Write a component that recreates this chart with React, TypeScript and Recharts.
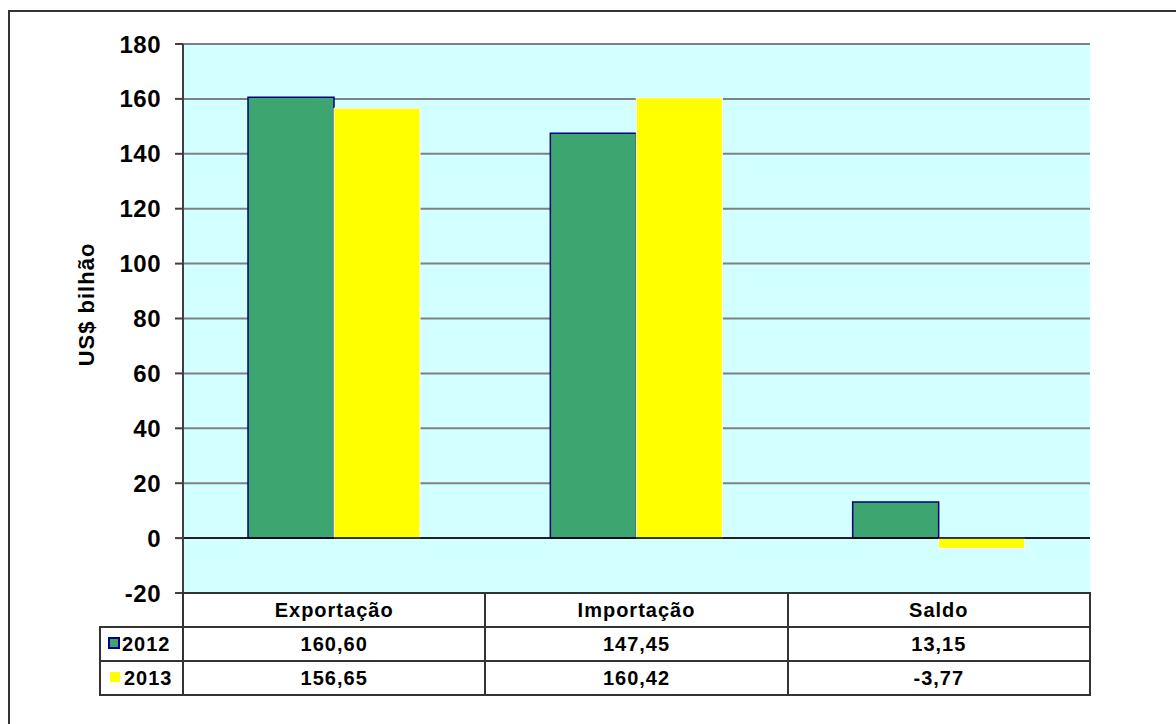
import { BarChart, Bar, XAxis, YAxis, CartesianGrid, ReferenceLine } from 'recharts';

const categories = ['Exportação', 'Importação', 'Saldo'];
const series2012 = [160.6, 147.45, 13.15];
const series2013 = [156.65, 160.42, -3.77];
const yTicks = [-20, 0, 20, 40, 60, 80, 100, 120, 140, 160, 180];
const seriesNames = ['2012', '2013'];

const W = 1176;
const H = 724;
const plotLeft = 183;
const plotRight = 1090;
const plotTop = 44;
const plotBottom = 593;
const tableLeft = 100;
const rowH = 34;

const font = '"Liberation Sans", Arial, sans-serif';
const green = '#3DA56F';
const navy = '#000080';
const yellow = '#FFFF00';

const fmt = (v: number) => v.toFixed(2).replace('.', ',');

const data = categories.map((name, i) => ({
  name,
  y2012: series2012[i],
  y2013: series2013[i],
}));

function YLabel(props: any) {
  const { viewBox } = props;
  const cx = viewBox.x + 86;
  const cy = viewBox.y + viewBox.height / 2 - 14;
  return (
    <text
      x={cx}
      y={cy}
      transform={`rotate(-90 ${cx} ${cy})`}
      textAnchor="middle"
      dominantBaseline="central"
      fontFamily={font}
      fontWeight="bold"
      fontSize={22}
      letterSpacing={1}
      fill="#000"
    >
      US$ bilhão
    </text>
  );
}

function DataTable() {
  const colW = (plotRight - plotLeft) / categories.length;
  const border = '2px solid #333';
  const cell: React.CSSProperties = {
    border,
    height: rowH - 2,
    padding: 0,
    textAlign: 'center',
    verticalAlign: 'middle',
    fontFamily: font,
    fontWeight: 'bold',
    fontSize: 20,
    letterSpacing: 1,
    color: '#000',
  };
  const rows = [series2012, series2013];
  return (
    <table
      style={{
        position: 'absolute',
        left: tableLeft - 1,
        top: plotBottom - 1,
        borderCollapse: 'collapse',
        tableLayout: 'fixed',
        width: plotRight - tableLeft + 2,
      }}
    >
      <colgroup>
        <col style={{ width: plotLeft - tableLeft }} />
        {categories.map((c) => (
          <col key={c} style={{ width: colW }} />
        ))}
      </colgroup>
      <tbody>
        <tr>
          <td style={{ ...cell, border: 'none' }} />
          {categories.map((c) => (
            <td key={c} style={cell}>
              {c}
            </td>
          ))}
        </tr>
        {rows.map((vals, r) => (
          <tr key={seriesNames[r]}>
            <td style={{ ...cell, textAlign: 'left', paddingLeft: r === 0 ? 7 : 9 }}>
              <span
                style={{
                  display: 'inline-block',
                  width: 8,
                  height: 8,
                  background: r === 0 ? green : yellow,
                  border: r === 0 ? `2px solid ${navy}` : '1px solid ' + yellow,
                  marginRight: r === 0 ? 2 : 4,
                  verticalAlign: 'middle',
                  position: 'relative',
                  top: -2,
                }}
              />
              {seriesNames[r]}
            </td>
            {vals.map((v, i) => (
              <td key={categories[i]} style={cell}>
                {fmt(v)}
              </td>
            ))}
          </tr>
        ))}
      </tbody>
    </table>
  );
}

export default function App() {
  return (
    <div
      style={{
        position: 'absolute',
        left: 0,
        top: 0,
        width: W,
        height: H,
        background: '#fff',
        overflow: 'hidden',
      }}
    >
      <div
        style={{
          position: 'absolute',
          left: 8,
          top: 10,
          right: -10,
          bottom: -10,
          borderTop: '2px solid #333',
          borderLeft: '2px solid #333',
        }}
      />
      <div style={{ position: 'absolute', left: 0, top: 0 }}>
        <BarChart
          width={W}
          height={H}
          data={data}
          margin={{ top: plotTop, right: W - plotRight, bottom: H - plotBottom, left: 0 }}
          barCategoryGap={65}
          barGap={0}
        >
          <CartesianGrid
            vertical={false}
            stroke="#808080"
            strokeWidth={2}
            fill="#D2FFFF"
            fillOpacity={1}
          />
          <XAxis dataKey="name" hide />
          <YAxis
            width={plotLeft}
            domain={[-20, 180]}
            ticks={yTicks}
            interval={0}
            allowDataOverflow
            axisLine={{ stroke: '#404040', strokeWidth: 2 }}
            tickLine={{ stroke: '#404040', strokeWidth: 2 }}
            tickSize={8}
            tickMargin={14}
            tick={{
              fill: '#000',
              fontFamily: font,
              fontWeight: 'bold',
              fontSize: 24,
              letterSpacing: 0.5,
            }}
            label={<YLabel />}
          />
          <ReferenceLine y={0} stroke="#000" strokeWidth={1.5} />
          <Bar
            dataKey="y2012"
            fill={green}
            stroke={navy}
            strokeWidth={1.5}
            isAnimationActive={false}
          />
          <Bar
            dataKey="y2013"
            fill={yellow}
            stroke="#FFFFFF"
            strokeWidth={1}
            isAnimationActive={false}
          />
        </BarChart>
      </div>
      <DataTable />
    </div>
  );
}
